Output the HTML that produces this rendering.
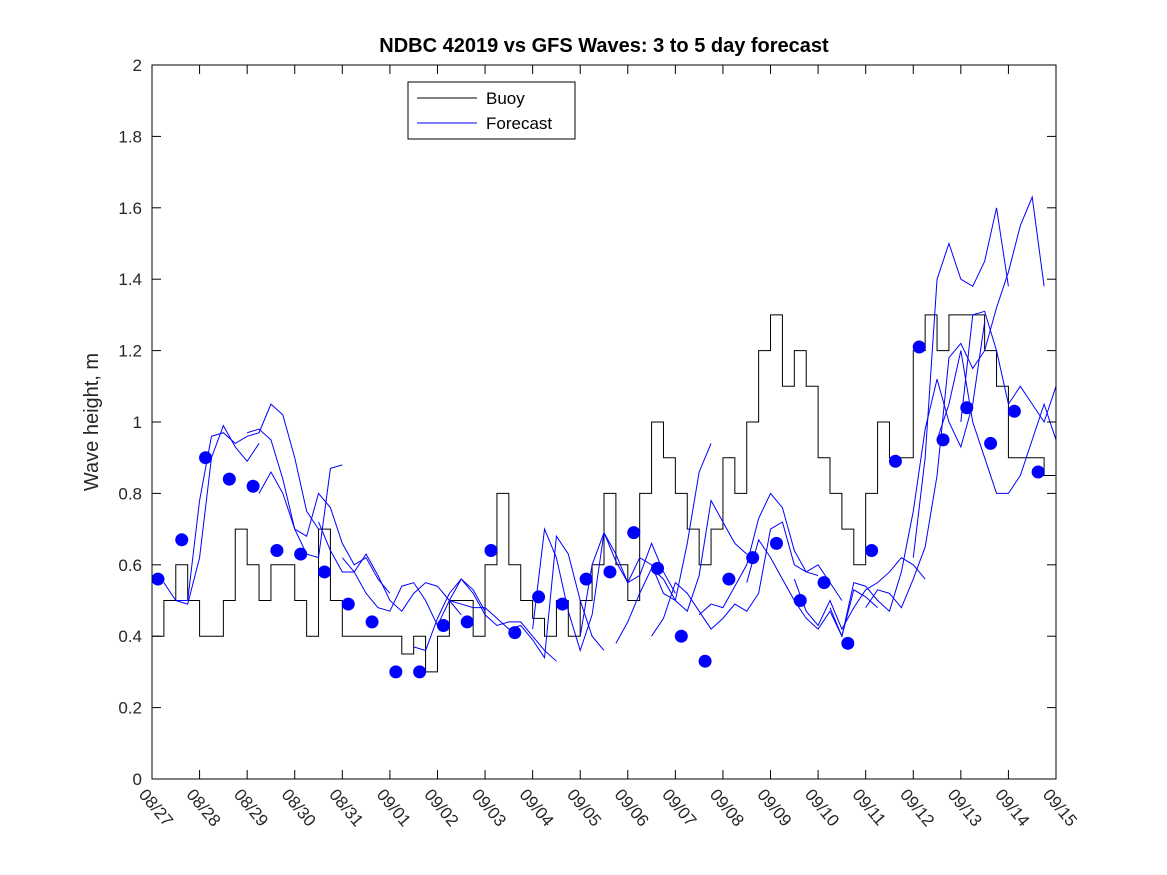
<!DOCTYPE html>
<html><head><meta charset="utf-8"><style>
body{margin:0;background:#fff;}
svg{display:block;font-family:"Liberation Sans","DejaVu Sans",sans-serif;}
</style></head><body>
<svg id="chart" width="1167" height="875"></svg>
<script>
const dateLabels=["08/27","08/28","08/29","08/30","08/31","09/01","09/02","09/03","09/04","09/05","09/06","09/07","09/08","09/09","09/10","09/11","09/12","09/13","09/14","09/15"];
const yTicks=[0,0.2,0.4,0.6,0.8,1,1.2,1.4,1.6,1.8,2];
const yTickLabels=["0","0.2","0.4","0.6","0.8","1","1.2","1.4","1.6","1.8","2"];
const buoyStep=0.25;
const buoyValues=[0.4,0.5,0.6,0.5,0.4,0.4,0.5,0.7,0.6,0.5,0.6,0.6,0.5,0.4,0.7,0.5,0.4,0.4,0.4,0.4,0.4,0.35,0.4,0.3,0.4,0.5,0.5,0.4,0.6,0.8,0.6,0.5,0.45,0.4,0.5,0.4,0.5,0.6,0.8,0.6,0.5,0.8,1.0,0.9,0.8,0.7,0.6,0.7,0.9,0.8,1.0,1.2,1.3,1.1,1.2,1.1,0.9,0.8,0.7,0.6,0.8,1.0,0.9,0.9,1.2,1.3,1.2,1.3,1.3,1.3,1.2,1.1,0.9,0.9,0.9,0.85,0.85];
const dotStart=0.125, dotStep=0.5;
const dotValues=[0.56,0.67,0.90,0.84,0.82,0.64,0.63,0.58,0.49,0.44,0.30,0.30,0.43,0.44,0.64,0.41,0.51,0.49,0.56,0.58,0.69,0.59,0.40,0.33,0.56,0.62,0.66,0.50,0.55,0.38,0.64,0.89,1.21,0.95,1.04,0.94,1.03,0.86];
const fcStep=0.25;
const fcStarts=[0.25,0.5,2,2.25,3.5,4,5.5,6.25,8,9,9.75,10.5,11.5,12.5,13.5,14.25,15,16,16.5,17];
const fcValues=[
[0.55,0.50,0.50,0.78,0.96,0.97,0.94,0.96,0.97,1.05,1.02,0.90,0.75,0.70],
[0.50,0.49,0.62,0.90,0.99,0.93,0.89,0.94],
[0.97,0.98,0.95,0.84,0.70,0.68,0.80,0.76,0.66,0.60,0.62,0.56,0.52],
[0.80,0.86,0.80,0.70,0.63,0.62,0.87,0.88],
[0.72,0.64,0.58,0.58,0.63,0.57,0.50,0.47,0.52,0.55,0.54,0.50,0.46],
[0.62,0.58,0.52,0.48,0.47,0.54,0.55,0.50,0.43,0.50,0.56,0.53,0.47],
[0.37,0.36,0.45,0.52,0.56,0.52,0.46,0.43,0.44,0.44,0.40,0.36,0.33],
[0.50,0.49,0.48,0.48,0.45,0.42,0.43,0.39,0.34,0.68,0.63,0.50,0.40,0.36],
[0.42,0.70,0.62,0.47,0.36,0.46,0.69,0.61,0.55,0.57,0.66,0.58,0.52],
[0.40,0.60,0.69,0.63,0.55,0.62,0.60,0.52,0.50,0.66,0.86,0.94],
[0.38,0.44,0.52,0.59,0.56,0.50,0.47,0.57,0.78,0.72,0.66,0.63],
[0.40,0.45,0.55,0.52,0.47,0.42,0.45,0.49,0.47,0.52,0.70,0.72,0.60,0.58,0.57],
[0.46,0.49,0.48,0.54,0.60,0.73,0.80,0.76,0.64,0.58,0.60,0.55,0.50],
[0.55,0.67,0.62,0.56,0.50,0.45,0.42,0.47,0.40,0.53,0.51,0.48],
[0.56,0.47,0.43,0.50,0.42,0.48,0.53,0.55,0.58,0.62,0.60,0.56],
[0.48,0.40,0.55,0.54,0.50,0.47,0.58,0.75,0.98,1.12,1.00,0.93,1.05,1.28],
[0.48,0.53,0.52,0.48,0.56,0.65,0.85,1.18,1.22,1.15,1.20,1.32,1.42,1.55,1.63,1.38],
[0.62,0.90,1.40,1.50,1.40,1.38,1.45,1.60,1.38],
[0.95,1.05,1.20,1.00,0.90,0.80,0.80,0.85,0.95,1.05,0.95,0.85],
[1.00,1.30,1.31,1.20,1.05,1.10,1.05,1.00,1.10,1.23]
];
const L=152,R=1056,T=65,B=779,NDAYS=19;
const xs=d=>L+(R-L)*d/NDAYS;
const ys=v=>B-(B-T)*v/2;
const NS="http://www.w3.org/2000/svg";
const svg=document.getElementById('chart');
function mk(tag,attrs,parent){const e=document.createElementNS(NS,tag);for(const k in attrs)e.setAttribute(k,attrs[k]);(parent||svg).appendChild(e);return e;}
const defs=mk('defs',{});
const cp=mk('clipPath',{id:'plotclip'},defs);
mk('rect',{x:L,y:T,width:R-L,height:B-T},cp);
mk('rect',{x:L,y:T,width:R-L,height:B-T,fill:'#fff'});
const plot=mk('g',{'clip-path':'url(#plotclip)'});


let d='';
buoyValues.forEach((v,i)=>{const x=xs(i*buoyStep),y=ys(v);d+=(i?` H${x} V${y}`:`M${x} ${y}`);});
const buoy=mk('path',{d:d,fill:'none',stroke:'#000','stroke-width':1},plot);


fcValues.forEach((arr,j)=>{
  const pts=arr.map((v,i)=>xs(fcStarts[j]+i*fcStep)+','+ys(v)).join(' ');
  const p=mk('polyline',{points:pts,fill:'none',stroke:'#0000ff','stroke-width':1},plot);
  
  
});
dotValues.forEach((v,i)=>{
  const c=mk('circle',{cx:xs(dotStart+i*dotStep),cy:ys(v),r:6.5,fill:'#0000ff'},plot);
  
  
});
const frame=mk('rect',{x:L,y:T,width:R-L,height:B-T,fill:'none',stroke:'#000','stroke-width':1});


yTicks.forEach((v,i)=>{
  const y=ys(v);
  mk('line',{x1:L,x2:L+9,y1:y,y2:y,stroke:'#000'});
  mk('line',{x1:R,x2:R-9,y1:y,y2:y,stroke:'#000'});
  const t=mk('text',{x:L-10,y:y+6,'text-anchor':'end','font-size':17,fill:'#262626'});
  t.textContent=yTickLabels[i];
  
  
});
dateLabels.forEach((s,i)=>{
  const x=xs(i);
  mk('line',{x1:x,x2:x,y1:B,y2:B-9,stroke:'#000'});
  mk('line',{x1:x,x2:x,y1:T,y2:T+9,stroke:'#000'});
  const t=mk('text',{x:x-14,y:B+16,'font-size':17,fill:'#262626',transform:`rotate(50 ${x-14} ${B+16})`});
  t.textContent=s;
  
  
});
const yt=mk('text',{x:98,y:422,'text-anchor':'middle','font-size':20,fill:'#262626',transform:'rotate(-90 98 422)'});
yt.textContent='Wave height, m';


const ti=mk('text',{x:604,y:52,'text-anchor':'middle','font-size':20,'font-weight':'bold',fill:'#000'});
ti.textContent='NDBC 42019 vs GFS Waves: 3 to 5 day forecast';


const lg=mk('g',{});


mk('rect',{x:408,y:82,width:167,height:57,fill:'#fff',stroke:'#000'},lg);
mk('line',{x1:417,x2:477,y1:98,y2:98,stroke:'#000'},lg);
mk('line',{x1:417,x2:477,y1:123,y2:123,stroke:'#0000ff'},lg);
const l1=mk('text',{x:486,y:104,'font-size':17,fill:'#000'},lg);l1.textContent='Buoy';


const l2=mk('text',{x:486,y:129,'font-size':17,fill:'#000'},lg);l2.textContent='Forecast';


</script>
</body></html>
